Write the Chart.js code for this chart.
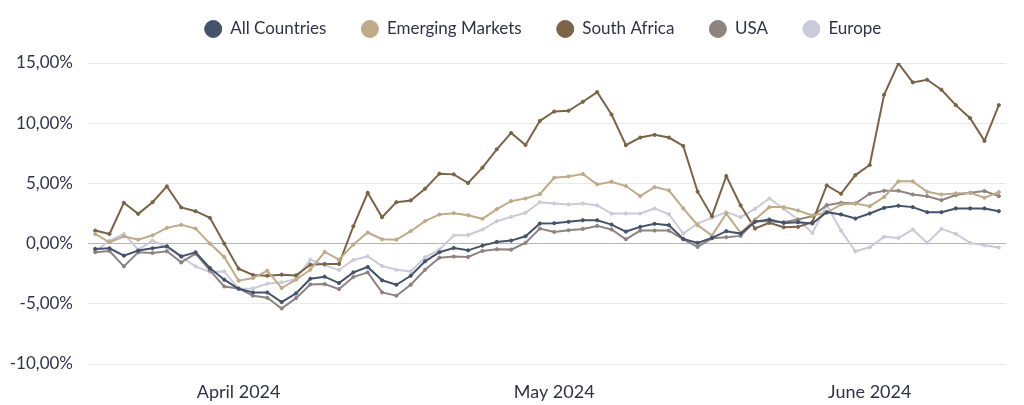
<!DOCTYPE html>
<html>
<head>
<meta charset="utf-8">
<script src="https://cdn.jsdelivr.net/npm/chart.js@4.4.1/dist/chart.umd.min.js"></script>
<style>
  html, body { margin: 0; padding: 0; background: #fff; }
  #wrap { width: 1024px; height: 405px; position: relative; }
</style>
</head>
<body>
<div id="wrap"><canvas id="chart"></canvas></div>
<script>
// trading days, one point each
const dates = [
  '2024-03-18','2024-03-19','2024-03-20','2024-03-21','2024-03-22','2024-03-25','2024-03-26','2024-03-27','2024-03-28','2024-03-29',
  '2024-04-01','2024-04-02','2024-04-03','2024-04-04','2024-04-05','2024-04-08','2024-04-09','2024-04-10','2024-04-11','2024-04-12',
  '2024-04-15','2024-04-16','2024-04-17','2024-04-18','2024-04-19','2024-04-22','2024-04-23','2024-04-24','2024-04-25','2024-04-26',
  '2024-04-29','2024-04-30','2024-05-01','2024-05-02','2024-05-03','2024-05-06','2024-05-07','2024-05-08','2024-05-09','2024-05-10',
  '2024-05-13','2024-05-14','2024-05-15','2024-05-16','2024-05-17','2024-05-20','2024-05-21','2024-05-22','2024-05-23','2024-05-24',
  '2024-05-28','2024-05-29','2024-05-30','2024-05-31','2024-06-03','2024-06-04','2024-06-05','2024-06-06','2024-06-07','2024-06-10',
  '2024-06-11','2024-06-12','2024-06-13','2024-06-14'
];
const monthNames = ['January','February','March','April','May','June','July','August','September','October','November','December'];

const allCountries = [
  -0.44, -0.39, -1.0, -0.58, -0.39, -0.22, -1.06, -0.72, -2.03, -3.0,
  -3.75, -4.06, -4.06, -4.86, -4.14, -2.92, -2.75, -3.28, -2.39, -1.94,
  -3.05, -3.42, -2.67, -1.47, -0.72, -0.36, -0.56, -0.17, 0.14, 0.25,
  0.61, 1.67, 1.69, 1.81, 1.94, 1.94, 1.58, 1.0, 1.39, 1.64,
  1.53, 0.39, 0.06, 0.47, 1.03, 0.83, 1.81, 2.0, 1.72, 1.78,
  1.67, 2.61, 2.42, 2.08, 2.5, 2.97, 3.14, 3.03, 2.61, 2.61,
  2.92, 2.92, 2.92, 2.69
];
const emergingMarkets = [
  0.8, 0.11, 0.61, 0.33, 0.69, 1.31, 1.56, 1.25, 0.0, -1.11,
  -3.08, -2.86, -2.25, -3.69, -3.0, -2.17, -0.69, -1.33, -0.08, 0.92,
  0.36, 0.33, 1.03, 1.86, 2.42, 2.53, 2.36, 2.06, 2.86, 3.53,
  3.75, 4.11, 5.47, 5.58, 5.78, 4.92, 5.14, 4.78, 3.94, 4.69,
  4.42, 2.92, 1.53, 0.67, 2.5, 0.89, 2.0, 3.03, 3.03, 2.75,
  2.33, 2.56, 3.25, 3.33, 3.11, 3.86, 5.17, 5.17, 4.31, 4.08,
  4.17, 4.22, 3.81, 4.28
];
const southAfrica = [
  1.08, 0.8, 3.39, 2.47, 3.44, 4.75, 3.0, 2.69, 2.14, 0.0,
  -2.08, -2.61, -2.67, -2.58, -2.64, -1.75, -1.69, -1.69, 1.44, 4.22,
  2.19, 3.44, 3.58, 4.56, 5.81, 5.75, 5.03, 6.31, 7.83, 9.19,
  8.19, 10.19, 10.97, 11.03, 11.78, 12.58, 10.72, 8.17, 8.81, 9.03,
  8.81, 8.11, 4.31, 2.28, 5.61, 3.17, 1.25, 1.72, 1.36, 1.39,
  1.78, 4.83, 4.14, 5.69, 6.53, 12.36, 14.97, 13.39, 13.61, 12.78,
  11.5, 10.42, 8.53, 11.5
];
const usa = [
  -0.72, -0.61, -1.89, -0.72, -0.78, -0.64, -1.56, -0.83, -2.22, -3.56,
  -3.72, -4.33, -4.5, -5.39, -4.53, -3.39, -3.36, -3.78, -2.78, -2.39,
  -4.05, -4.33, -3.42, -2.17, -1.17, -1.08, -1.11, -0.61, -0.47, -0.5,
  0.06, 1.25, 0.97, 1.11, 1.22, 1.47, 1.17, 0.36, 1.08, 1.08,
  1.08, 0.36, -0.28, 0.44, 0.53, 0.64, 1.86, 1.86, 1.78, 2.0,
  2.28, 3.19, 3.39, 3.33, 4.14, 4.39, 4.39, 4.08, 3.94, 3.61,
  4.03, 4.22, 4.36, 3.94
];
const europe = [
  -0.64, 0.25, 0.81, -0.5, 0.25, -0.31, -1.11, -1.89, -2.36, -2.31,
  -3.75, -3.72, -3.33, -3.22, -2.94, -1.33, -1.81, -2.19, -1.36, -1.06,
  -1.86, -2.17, -2.31, -1.14, -0.5, 0.67, 0.72, 1.17, 1.86, 2.22,
  2.56, 3.44, 3.33, 3.25, 3.33, 3.17, 2.5, 2.5, 2.5, 2.92,
  2.44, 0.83, 1.67, 2.14, 2.61, 2.19, 2.89, 3.75, 2.89, 2.0,
  0.89, 3.19, 1.08, -0.64, -0.31, 0.56, 0.47, 1.17, 0.06, 1.22,
  0.81, 0.06, -0.14, -0.33
];
const yTicks = [-10, -5, 0, 5, 10, 15];

const textColor = '#30324a';
Chart.defaults.font.family = 'Lato, "Noto Sans", sans-serif';
Chart.defaults.font.size = 17;
Chart.defaults.color = textColor;

function line(label, data, color) {
  return {
    label: label,
    data: data,
    borderColor: color,
    backgroundColor: color,
    pointBackgroundColor: color,
    pointBorderColor: color,
    borderWidth: 2,
    pointRadius: 1.6,
    pointBorderWidth: 1,
    pointHoverRadius: 3,
    tension: 0
  };
}

// push legend up and to the right, keep plot top at 15%
const legendSpacing = {
  id: 'legendSpacing',
  beforeInit(chart) {
    const fit = chart.legend.fit;
    chart.legend.fit = function () {
      fit.call(this);
      this.height = 63;
    };
  },
  afterLayout(chart) {
    const l = chart.legend;
    l.left += 40;
    l.right += 40;
    l.top = 29 - 35 - 8.5;
  }
};

new Chart(document.getElementById('chart'), {
  type: 'line',
  data: {
    labels: dates,
    datasets: [
      line('All Countries', allCountries, '#44526e'),
      line('Emerging Markets', emergingMarkets, '#bfab86'),
      line('South Africa', southAfrica, '#7a6445'),
      line('USA', usa, '#8e837e'),
      line('Europe', europe, '#cacada')
    ]
  },
  options: {
    responsive: true,
    maintainAspectRatio: false,
    animation: false,
    layout: { padding: { left: 0, right: 18, top: 0, bottom: 0 } },
    plugins: {
      legend: {
        position: 'top',
        labels: {
          usePointStyle: true,
          pointStyle: 'circle',
          boxHeight: 12,
          pointStyleWidth: 17,
          padding: 35,
          color: textColor,
          font: { size: 17 }
        }
      },
      tooltip: { enabled: false }
    },
    scales: {
      x: {
        offset: true,
        grid: { display: false },
        border: { display: false },
        ticks: {
          autoSkip: false,
          maxRotation: 0,
          padding: 9,
          font: { size: 18 },
          callback: function (value, index) {
            const d = dates[index];
            const prev = dates[index - 1];
            if (index > 0 && d.slice(5, 7) !== prev.slice(5, 7)) {
              return monthNames[parseInt(d.slice(5, 7), 10) - 1] + ' ' + d.slice(0, 4);
            }
            return '';
          }
        },
        afterFit(scale) { scale.height = 41; }
      },
      y: {
        min: yTicks[0],
        max: yTicks[yTicks.length - 1],
        border: { display: false },
        grid: {
          drawTicks: false,
          lineWidth: 1,
          color: (ctx) => ctx.tick && ctx.tick.value === 0 ? '#b4b4bd' : '#e8e8e8'
        },
        afterBuildTicks(scale) { scale.ticks = yTicks.map(v => ({ value: v })); },
        ticks: {
          padding: 15,
          font: { size: 17 },
          callback: (v) => v.toFixed(2).replace('.', ',') + '%'
        },
        afterFit(scale) { scale.width = 88; }
      }
    }
  },
  plugins: [legendSpacing]
});
</script>
</body>
</html>
